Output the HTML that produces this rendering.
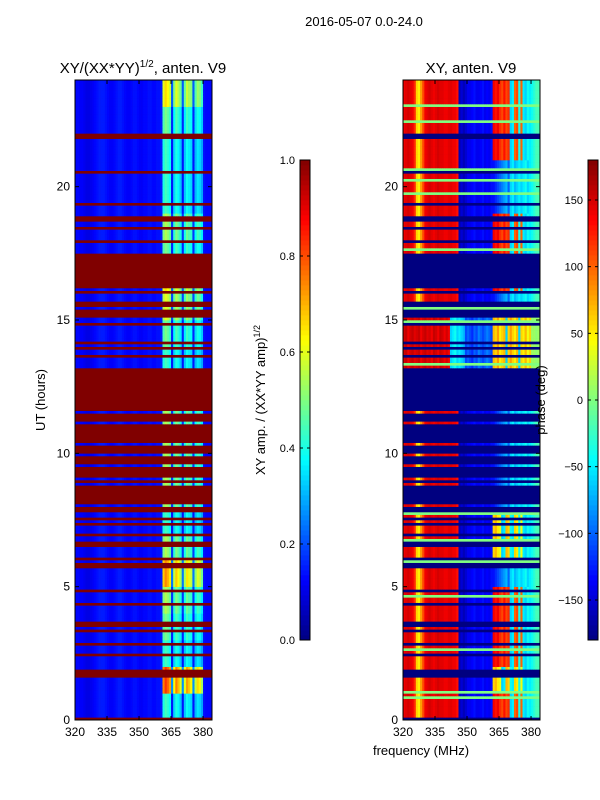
<!DOCTYPE html>
<html><head><meta charset="utf-8"><style>
html,body{margin:0;padding:0;background:#fff}
svg{display:block}
text{font-family:"Liberation Sans","DejaVu Sans",sans-serif;fill:#000}
</style></head><body>
<svg id="chart" width="600" height="800" viewBox="0 0 600 800" xmlns="http://www.w3.org/2000/svg">
<rect x="0" y="0" width="600" height="800" fill="#fff"/>
<text x="364" y="26" font-size="13" text-anchor="middle">2016-05-07 0.0-24.0</text>
<text x="143" y="73" font-size="15" text-anchor="middle">XY/(XX*YY)<tspan font-size="10" dy="-6">1/2</tspan><tspan dy="6">, anten. V9</tspan></text>
<text x="471" y="73" font-size="15" text-anchor="middle">XY, anten. V9</text>
<text transform="translate(45,400) rotate(-90)" font-size="13" text-anchor="middle">UT (hours)</text>
<text transform="translate(265,400) rotate(-90)" font-size="13" text-anchor="middle">XY amp. / (XX*YY amp)<tspan font-size="9" dy="-5">1/2</tspan></text>
<text x="421" y="755" font-size="13" text-anchor="middle">frequency (MHz)</text>
<g id="ampPanel"></g>
<g id="phPanel"></g>
<text transform="translate(545,400) rotate(-90)" font-size="13" text-anchor="middle">phase (deg)</text>
<g id="axes"></g>
<g id="cbars"></g>
</svg>
<script>
// ---- data ----
var freqStart = 320, freqEnd = 384.2, hourMax = 24;
var rowStep = 0.1; // hours per row
// amplitude per 1-MHz column (320..383)
var ampCols = [0.13,0.13,0.12,0.12,0.11,0.10,0.10,0.11,0.12,0.13,0.14,0.15,0.15,0.15,0.14,0.13,0.12,0.12,0.13,0.14,
  0.15,0.15,0.14,0.13,0.12,0.12,0.13,0.14,0.14,0.13,0.12,0.12,0.13,0.13,0.14,0.14,0.13,0.13,0.14,0.14,
  0.15,0.50,0.55,0.52,0.48,0.18,0.42,0.50,0.46,0.40,0.18,0.40,0.48,0.45,0.42,0.18,0.38,0.44,0.42,0.36,
  0.14,0.13,0.13,0.13];
// amplitude gain per hour (0..23)
var ampGain = [0.8,1.5,0.8,0.9,1.0,1.35,1.0,0.8,1,1,1,1,1,0.8,0.9,1.1,1.2,0.9,1.0,0.8,0.8,0.8,0.9,1.2];
// phase per column 320..361, regime A (most rows) and regime B (~13-15.2 h)
var phaseA = [140,145,150,145,140,120,60,50,80,110,140,145,150,145,140,145,150,145,145,140,
  140,145,145,140,140,130,-160,-150,-160,-150,-140,-140,-135,-130,-140,-140,-135,-130,-140,-135,
  -140,-130];
var phaseB = [150,155,140,150,155,145,150,155,140,150,155,145,150,140,155,150,140,155,150,140,
  150,140,-60,-50,-40,-60,-50,-60,-70,-110,-100,-110,-120,-100,-110,-90,-100,-110,-100,-90,
  -100,-110];
// phase for columns 362..383 by mode
var rightRed    = [140,130,140,120,110,130,110,120,-60,-50,100,110,-40,100,-50,-60,-40,-50,-40,-30,-20,-20];
var rightBlue   = [-130,-120,-110,-100,-90,-80,-70,-100,-60,-50,-70,-60,-50,-60,-50,-40,-60,-50,-40,-30,-20,-20];
var rightYellow = [60,70,50,40,-60,-50,70,60,-40,-50,60,50,-40,40,-50,-60,-40,-50,-40,-30,-20,-20];
var rightB      = [70,60,80,50,60,70,-60,60,80,60,50,70,-60,60,50,70,40,60,10,10,5,10];
// right-region mode per hour (0 blue, 1 red, 2 yellow, 3 regime B)
var rightMode = [1,2,1,1,1,0,2,2,0,0,0,0,0,3,3,0,1,1,1,0,0,1,1,1];
var phaseBRange = [12.8, 15.2];
// flagged intervals (hours)
var flagIntervals = [[0.05,0.12],[1.6,1.95],[2.45,2.55],[2.85,2.95],[3.3,3.42],[3.5,3.6],[3.65,3.75],[4.33,4.43],
  [4.82,4.92],[5.7,5.8],[5.85,5.95],[6.05,6.15],[6.5,6.6],[6.6,6.7],[6.95,7.05],[7.35,7.45],[7.55,7.65],
  [7.8,13.25],[13.65,13.75],[13.9,14.0],[14.1,14.2],[14.85,14.95],[15.1,15.4],[15.55,15.7],[16.0,16.1],
  [16.25,17.55],[17.95,18.05],[18.45,18.55],[18.75,18.9],[19.35,19.45],[20.55,20.65],[21.85,22.0]];
// unflagged thin lines inside flagged blocks (hours)
var okLines = [8.05,8.85,9.05,9.55,9.95,10.35,11.15,11.55];
// phase green lines (hours)
var greenLines = [0.85,1.05,2.65,3.55,4.65,5.95,6.75,7.75,9.25,13.35,14.95,15.45,17.65,19.75,20.25,20.65,22.45,23.05];

// ---- helpers ----
function jet(v){v=Math.max(0,Math.min(1,v));
  function f(x){return Math.max(0,Math.min(1,x));}
  var r=f(1.5-Math.abs(4*v-3)), g=f(1.5-Math.abs(4*v-2)), b=f(1.5-Math.abs(4*v-1));
  return 'rgb('+Math.round(r*255)+','+Math.round(g*255)+','+Math.round(b*255)+')';}
var NS='http://www.w3.org/2000/svg';
function mk(tag,attrs,parent){var e=document.createElementNS(NS,tag);for(var k in attrs)e.setAttribute(k,attrs[k]);parent.appendChild(e);return e;}
var plotTop=80, plotBot=720;
function yScale(h){return plotBot-(h/hourMax)*(plotBot-plotTop);}
function xScaleFor(x0,x1){return function(f){return x0+(f-freqStart)/(freqEnd-freqStart)*(x1-x0);};}
var panels=[{g:'ampPanel',x0:75,x1:212},{g:'phPanel',x0:403,x1:540}];
function isFlag(h){
  for(var i=0;i<okLines.length;i++) if(Math.abs(h-okLines[i])<0.03) return false;
  for(var j=0;j<flagIntervals.length;j++) if(h>=flagIntervals[j][0]&&h<flagIntervals[j][1]) return true;
  return false;}
function isGreen(h){for(var i=0;i<greenLines.length;i++) if(Math.abs(h-greenLines[i])<0.03) return true;return false;}
function phaseAt(c,hc,hourIdx){
  var regB = hc>=phaseBRange[0]&&hc<phaseBRange[1];
  if(c<42) return regB?phaseB[c]:phaseA[c];
  var m = regB?3:rightMode[hourIdx];
  var arr = m===3?rightB:(m===1?rightRed:(m===2?rightYellow:rightBlue));
  return arr[c-42];
}

// ---- draw heatmaps ----
var nRows=Math.round(hourMax/rowStep);
panels.forEach(function(p,pi){
  var g=document.getElementById(p.g), xs=xScaleFor(p.x0,p.x1);
  mk('rect',{x:p.x0,y:plotTop,width:p.x1-p.x0,height:plotBot-plotTop,fill:pi?'rgb(0,0,128)':'rgb(128,0,0)'},g);
  for(var r=0;r<nRows;r++){
    var h0=r*rowStep, hc=Math.round((h0+rowStep/2)*100)/100;
    var y1=yScale(h0+rowStep), y0=yScale(h0);
    var flagged=isFlag(hc);
    if(flagged){
      var fr=mk('rect',{x:p.x0,y:y1,width:p.x1-p.x0,height:y0-y1+0.3,fill:pi?'rgb(0,0,128)':'rgb(128,0,0)'},g);
      
      
      continue;}
    if(pi===1&&isGreen(hc)){
      var gr=mk('rect',{x:p.x0,y:y1,width:p.x1-p.x0,height:y0-y1+0.3,fill:jet(0.5)},g);
      
      
      continue;}
    var hourIdx=Math.min(23,Math.floor(hc));
    for(var c=0;c<ampCols.length;c++){
      var f0=freqStart+c, f1=(c===ampCols.length-1)?freqEnd:f0+1;
      var v;
      if(pi===0){v=ampCols[c]*(c>=41&&c<60?ampGain[hourIdx]:1);}
      else{v=(phaseAt(c,hc,hourIdx)+180)/360;}
      var cell=mk('rect',{x:xs(f0),y:y1,width:xs(f1)-xs(f0)+0.3,height:y0-y1+0.3,fill:jet(v)},g);
      
      
    }
  }
});

// ---- axes ----
var ax=document.getElementById('axes');
var yTicks=[0,5,10,15,20], xTicks=[320,335,350,365,380];
panels.forEach(function(p,pi){
  var xs=xScaleFor(p.x0,p.x1);
  var fr=mk('rect',{x:p.x0,y:plotTop,width:p.x1-p.x0,height:plotBot-plotTop,fill:'none',stroke:'#000','stroke-width':1},ax);
  
  
  yTicks.forEach(function(t){var y=yScale(t);
    mk('line',{x1:p.x0,x2:p.x0+4,y1:y,y2:y,stroke:'#000'},ax);
    mk('line',{x1:p.x1-4,x2:p.x1,y1:y,y2:y,stroke:'#000'},ax);
    var tl=mk('text',{x:p.x0-5,y:y+4,'font-size':12,'text-anchor':'end'},ax);tl.textContent=t;
    
    });
  xTicks.forEach(function(t){var x=xs(t);
    mk('line',{x1:x,x2:x,y1:plotBot,y2:plotBot-4,stroke:'#000'},ax);
    mk('line',{x1:x,x2:x,y1:plotTop,y2:plotTop+4,stroke:'#000'},ax);
    var tl=mk('text',{x:x,y:plotBot+16,'font-size':12,'text-anchor':'middle'},ax);tl.textContent=t;
    
    });
});

// ---- colorbars ----
var cb=document.getElementById('cbars');
var ampCbTicks=[0.0,0.2,0.4,0.6,0.8,1.0];
var phCbTicks=[-150,-100,-50,0,50,100,150];
var cbars=[{x:300,min:0,max:1,ticks:ampCbTicks,fmt:function(t){return t.toFixed(1);}},
           {x:588,min:-180,max:180,ticks:phCbTicks,fmt:function(t){return t<0?'\u2212'+(-t):String(t);}}];
cbars.forEach(function(c,ci){
  var top=160,bot=640,w=10,n=96;
  for(var i=0;i<n;i++){
    var s=mk('rect',{x:c.x,y:bot-(i+1)*(bot-top)/n,width:w,height:(bot-top)/n+0.4,fill:jet((i+0.5)/n)},cb);
    
    }
  var o=mk('rect',{x:c.x,y:top,width:w,height:bot-top,fill:'none',stroke:'#000'},cb);
  
  
  c.ticks.forEach(function(t){var y=bot-(t-c.min)/(c.max-c.min)*(bot-top);
    mk('line',{x1:c.x+w-3,x2:c.x+w,y1:y,y2:y,stroke:'#000'},cb);
    mk('line',{x1:c.x,x2:c.x+3,y1:y,y2:y,stroke:'#000'},cb);
    var tl=mk('text',{x:c.x-5,y:y+4,'font-size':11,'text-anchor':'end'},cb);tl.textContent=c.fmt(t);
    
    });
});
</script>
</body></html>
